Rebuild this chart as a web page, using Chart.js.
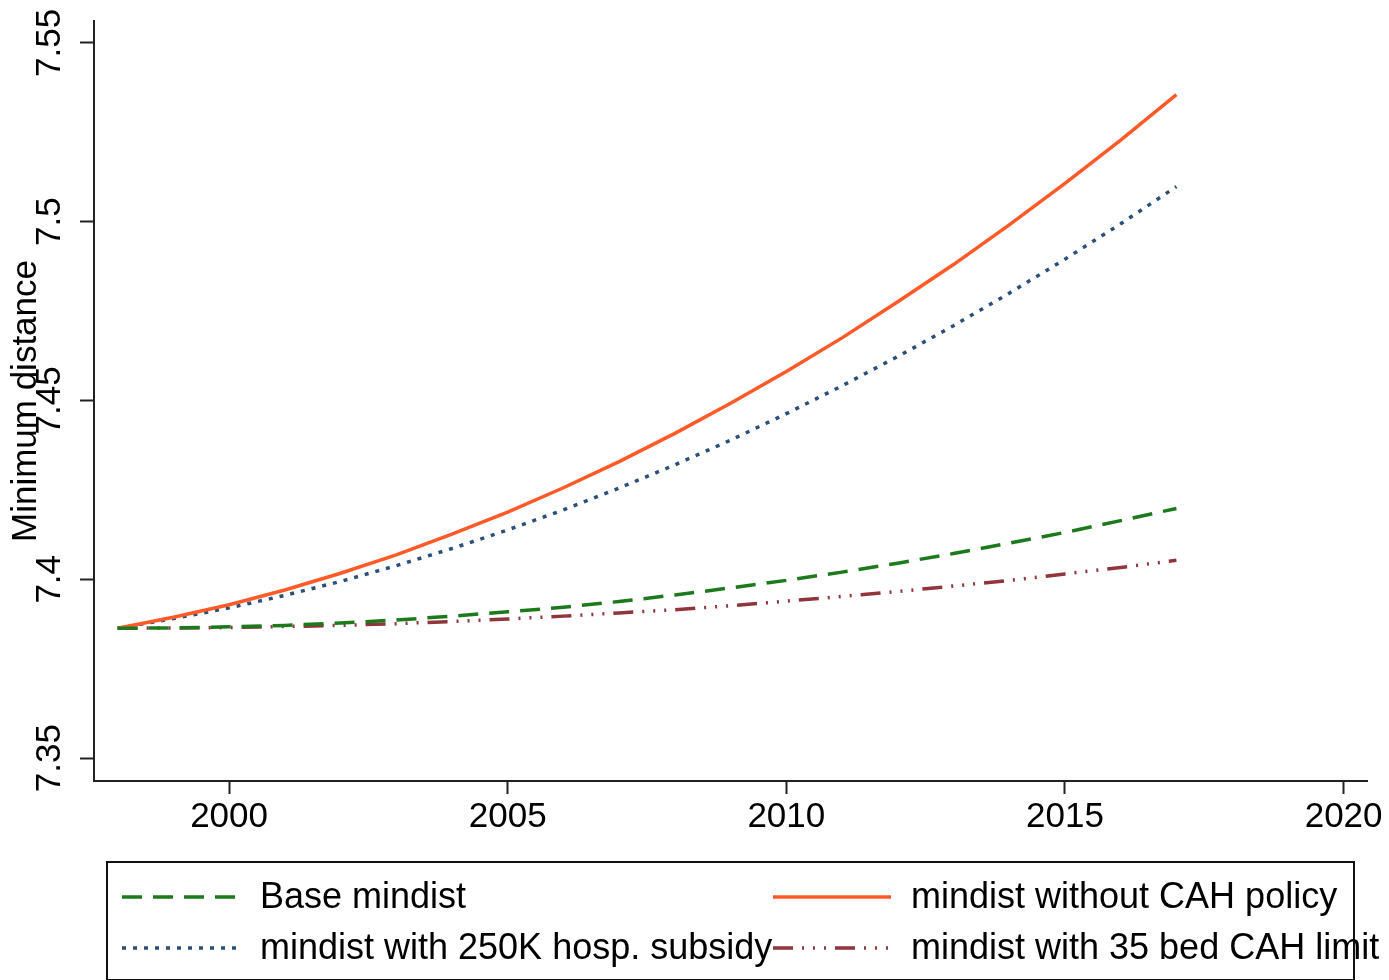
<!DOCTYPE html>
<html>
<head>
<meta charset="utf-8">
<title>Minimum distance</title>
<script src="https://cdn.jsdelivr.net/npm/chart.js"></script>
<style>
  html, body { margin: 0; padding: 0; background: #fff; }
  #wrap { width: 1389px; height: 980px; }
</style>
</head>
<body>
<div id="wrap"><canvas id="chart" width="1389" height="980"></canvas></div>
<script>
// valori (anni 1998-2017)
const years = [1998, 1999, 2000, 2001, 2002, 2003, 2004, 2005, 2006, 2007,
               2008, 2009, 2010, 2011, 2012, 2013, 2014, 2015, 2016, 2017];
const baseMindist = [7.3863, 7.3864, 7.3867, 7.3871, 7.3878, 7.3886, 7.3897, 7.3909, 7.3922, 7.3938,
                     7.3956, 7.3976, 7.3997, 7.4020, 7.4045, 7.4072, 7.4101, 7.4131, 7.4164, 7.4198];
const withoutCahPolicy = [7.3863, 7.3894, 7.3929, 7.3970, 7.4017, 7.4068, 7.4126, 7.4188, 7.4256, 7.4329,
                          7.4408, 7.4492, 7.4581, 7.4675, 7.4776, 7.4880, 7.4991, 7.5107, 7.5228, 7.5355];
const withSubsidy = [7.3863, 7.3890, 7.3920, 7.3955, 7.3994, 7.4038, 7.4086, 7.4138, 7.4194, 7.4255,
                     7.4320, 7.4389, 7.4463, 7.4541, 7.4623, 7.4709, 7.4800, 7.4895, 7.4994, 7.5098];
const with35BedLimit = [7.3863, 7.3864, 7.3865, 7.3868, 7.3871, 7.3876, 7.3882, 7.3889, 7.3897, 7.3906,
                        7.3915, 7.3926, 7.3939, 7.3952, 7.3966, 7.3981, 7.3997, 7.4015, 7.4033, 7.4053];
const seriesLabels = ['Base mindist', 'mindist without CAH policy',
                      'mindist with 250K hosp. subsidy', 'mindist with 35 bed CAH limit'];
const xTickValues = [2000, 2005, 2010, 2015, 2020];
const yTickValues = [7.35, 7.4, 7.45, 7.5, 7.55];
const yAxisTitle = 'Minimum distance';

const FONT = '"Liberation Sans", Arial, Helvetica, sans-serif';

function toPoints(values) {
    return years.map((y, i) => ({ x: y, y: values[i] }));
}

// legenda disegnata a mano: 2 colonne, 2 righe, dentro un riquadro
const legendBox = {
    id: 'legendBox',
    afterDraw(chart) {
        const ctx = chart.ctx;
        ctx.save();
        ctx.strokeStyle = '#111';
        ctx.lineWidth = 2;
        ctx.strokeRect(107, 862, 1247, 118);

        const cols = [122, 773];
        const rows = [897, 948];
        const slots = [[0, 0], [1, 0], [0, 1], [1, 1]];
        chart.data.datasets.forEach((ds, i) => {
            const cx = cols[slots[i][0]];
            const cy = rows[slots[i][1]];
            ctx.beginPath();
            ctx.setLineDash(ds.borderDash || []);
            ctx.strokeStyle = ds.borderColor;
            ctx.lineWidth = ds.borderWidth;
            ctx.moveTo(cx, cy);
            ctx.lineTo(cx + 118, cy);
            ctx.stroke();
            ctx.setLineDash([]);
            ctx.fillStyle = '#000';
            ctx.font = '36px ' + FONT;
            ctx.textBaseline = 'middle';
            ctx.textAlign = 'left';
            ctx.fillText(ds.label, cx + 138, cy + 1);
        });
        ctx.restore();
    }
};

const ctx = document.getElementById('chart').getContext('2d');
new Chart(ctx, {
    type: 'line',
    data: {
        datasets: [
            {
                label: seriesLabels[0],
                data: toPoints(baseMindist),
                borderColor: '#1c7a1c',
                borderWidth: 3.5,
                borderDash: [20, 11],
            },
            {
                label: seriesLabels[1],
                data: toPoints(withoutCahPolicy),
                borderColor: '#ff5a28',
                borderWidth: 3.5,
            },
            {
                label: seriesLabels[2],
                data: toPoints(withSubsidy),
                borderColor: '#2a4f78',
                borderWidth: 3.5,
                borderDash: [4, 7],
            },
            {
                label: seriesLabels[3],
                data: toPoints(with35BedLimit),
                borderColor: '#90353b',
                borderWidth: 3.5,
                borderDash: [20, 9, 2, 9, 2, 9, 2, 9],
            },
        ],
    },
    options: {
        responsive: false,
        animation: false,
        devicePixelRatio: 1,
        elements: { point: { radius: 0 }, line: { tension: 0, fill: false } },
        layout: { padding: { top: 21, right: 22, bottom: 0, left: 0 } },
        plugins: { legend: { display: false }, tooltip: { enabled: false } },
        scales: {
            x: {
                type: 'linear',
                min: 1997.576,
                max: 2020.42,
                afterBuildTicks: (scale) => { scale.ticks = xTickValues.map(v => ({ value: v })); },
                afterFit: (scale) => { scale.height = 199; },
                grid: { drawOnChartArea: false, drawTicks: true, tickLength: 13, tickWidth: 2, tickColor: '#222' },
                border: { display: true, color: '#222', width: 2 },
                ticks: {
                    color: '#000',
                    font: { family: FONT, size: 35 },
                    padding: 2,
                    maxRotation: 0,
                    callback: (v) => String(v),
                },
            },
            y: {
                type: 'linear',
                min: 7.3436,
                max: 7.5561,
                afterBuildTicks: (scale) => { scale.ticks = yTickValues.map(v => ({ value: v })); },
                afterFit: (scale) => { scale.width = 94; },
                grid: { drawOnChartArea: false, drawTicks: true, tickLength: 14, tickWidth: 2, tickColor: '#222' },
                border: { display: true, color: '#222', width: 2 },
                ticks: {
                    color: '#000',
                    font: { family: FONT, size: 35 },
                    minRotation: 90,
                    maxRotation: 90,
                    crossAlign: 'center',
                    padding: -4,
                    callback: (v) => String(v),
                },
                title: {
                    display: true,
                    text: yAxisTitle,
                    color: '#000',
                    font: { family: FONT, size: 35 },
                    padding: { top: 5, bottom: 0 },
                },
            },
        },
    },
    plugins: [legendBox],
});
</script>
</body>
</html>
